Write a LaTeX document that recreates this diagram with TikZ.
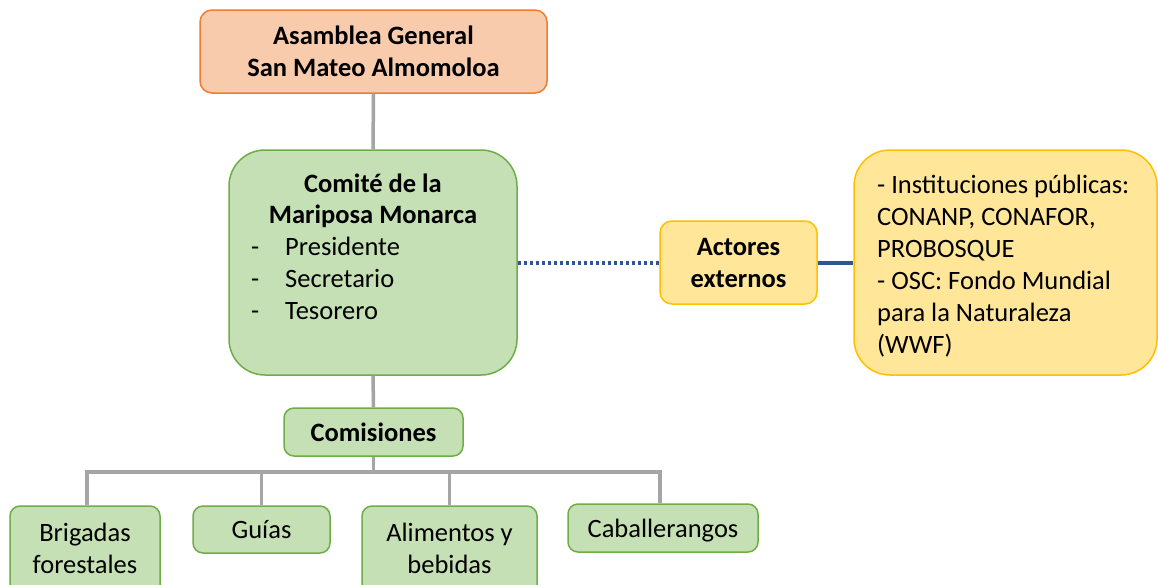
\documentclass[tikz,border=0pt]{standalone}
\usepackage{fontspec}
\setmainfont{Carlito}
\definecolor{orfill}{HTML}{F8CBAD}
\definecolor{ordraw}{HTML}{ED7D31}
\definecolor{grfill}{HTML}{C5E0B4}
\definecolor{grdraw}{HTML}{70AD47}
\definecolor{yefill}{HTML}{FFE699}
\definecolor{yedraw}{HTML}{FFC000}
\definecolor{conngray}{HTML}{A5A5A5}
\definecolor{connblue}{HTML}{2F5597}
\tikzset{
  box/.style={draw, line width=1.5pt, inner sep=0pt, align=center, font=\fontsize{26.5}{32}\selectfont},
  orbox/.style={box, fill=orfill, draw=ordraw, rounded corners=12pt},
  grbox/.style={box, fill=grfill, draw=grdraw, rounded corners=10pt},
  bigbox/.style={box, rounded corners=36pt},
  yebox/.style={box, fill=yefill, draw=yedraw, rounded corners=12pt},
  txt/.style={inner sep=0pt, anchor=base, font=\fontsize{26.5}{32}\selectfont},
  txtl/.style={txt, anchor=base west},
  conn/.style={draw=conngray, line width=3.5pt},
  dotline/.style={draw=connblue, line width=4pt, dash pattern=on 3.5pt off 2.5pt},
  blueline/.style={draw=connblue, line width=4pt},
}
\begin{document}
\begin{tikzpicture}[x=1pt,y=-1pt]
\clip (0,0) rectangle (1158,584);
\fill[white] (0,0) rectangle (1158,584);
% nodes
\node[orbox, minimum width=347pt, minimum height=83pt] (asam) at (373.5,51.5)
  {\bfseries Asamblea General\\\bfseries San Mateo Almomoloa};
\node[bigbox, fill=grfill, draw=grdraw, minimum width=288pt, minimum height=225pt] (comite) at (373,262.5) {};
\node[txt] (c1) at (373,192) {\bfseries Comité de la};
\node[txt] (c2) at (373,223) {\bfseries Mariposa Monarca};
\node[txtl] (d1) at (251,255) {-};
\node[txtl] (d2) at (251,287) {-};
\node[txtl] (d3) at (251,319) {-};
\node[txtl] (p1) at (285,255) {Presidente};
\node[txtl] (p2) at (285,287) {Secretario};
\node[txtl] (p3) at (285,319) {Tesorero};
\node[yebox, minimum width=157pt, minimum height=83pt] (act) at (738.5,262.5)
  {\bfseries Actores\\\bfseries externos};
\node[bigbox, fill=yefill, draw=yedraw, minimum width=303pt, minimum height=225pt] (ext) at (1005.5,262.5) {};
\node[txtl] (e1) at (877,193) {- Instituciones públicas:};
\node[txtl] (e2) at (877,225) {CONANP, CONAFOR,};
\node[txtl] (e3) at (877,257) {PROBOSQUE};
\node[txtl] (e4) at (877,289) {- OSC: Fondo Mundial};
\node[txtl] (e5) at (877,321) {para la Naturaleza};
\node[txtl] (e6) at (877,353) {(WWF)};
\node[grbox, minimum width=179pt, minimum height=48pt] (comis) at (373.5,432) {\bfseries Comisiones};
\node[grbox, minimum width=150pt, minimum height=94pt] (brig) at (85,553) {};
\node[txt] (b1) at (85,541) {Brigadas};
\node[txt] (b2) at (85,573) {forestales};
\node[grbox, minimum width=137pt, minimum height=47pt] (guias) at (261.5,529.5) {};
\node[txt] (g1) at (261.5,538) {Guías};
\node[grbox, minimum width=175pt, minimum height=94pt] (alim) at (449.5,553) {};
\node[txt] (a1) at (449.5,541) {Alimentos y};
\node[txt] (a2) at (449.5,573) {bebidas};
\node[grbox, minimum width=190pt, minimum height=48pt] (cab) at (663,528) {};
\node[txt] (k1) at (663,537) {Caballerangos};
% connectors
\coordinate (bus) at (373,472);
\draw[conn] (asam.south) -- (comite.north);
\draw[conn] (comite.south) -- (comis.north);
\draw[conn] (comis.south) -- (comis.south |- bus);
\draw[conn] ([xshift=2pt]brig.north) -- ([xshift=2pt]brig.north |- bus) -- ([xshift=-3pt]cab.north |- bus) -- ([xshift=-3pt]cab.north);
\draw[conn] (guias.north) -- (guias.north |- bus);
\draw[conn] (alim.north) -- (alim.north |- bus);
\draw[dotline] (comite.east) -- (act.west);
\draw[blueline] (act.east) -- (ext.west);
\end{tikzpicture}
\end{document}
